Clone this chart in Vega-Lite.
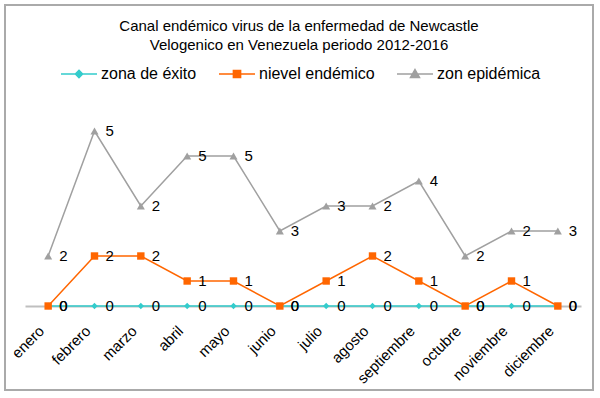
{
  "$schema": "https://vega.github.io/schema/vega-lite/v6.json",
  "width": 588,
  "height": 385,
  "autosize": "none",
  "padding": {"left": 5, "top": 5, "right": 7, "bottom": 8},
  "background": "white",
  "config": {
    "font": "Liberation Sans",
    "view": {"stroke": "#aaaaaa", "strokeWidth": 2}
  },
  "title": {
    "text": ["Canal endémico virus de la enfermedad de Newcastle", "Velogenico en Venezuela periodo 2012-2016"],
    "fontSize": 15,
    "fontWeight": "normal",
    "color": "#000000",
    "anchor": "middle",
    "frame": "group",
    "baseline": "top",
    "lineHeight": 19,
    "offset": -48
  },
  "data": {
    "values": [
      {"mes": "enero", "serie": "zona de éxito", "orden": 1, "valor": 0},
      {"mes": "febrero", "serie": "zona de éxito", "orden": 1, "valor": 0},
      {"mes": "marzo", "serie": "zona de éxito", "orden": 1, "valor": 0},
      {"mes": "abril", "serie": "zona de éxito", "orden": 1, "valor": 0},
      {"mes": "mayo", "serie": "zona de éxito", "orden": 1, "valor": 0},
      {"mes": "junio", "serie": "zona de éxito", "orden": 1, "valor": 0},
      {"mes": "julio", "serie": "zona de éxito", "orden": 1, "valor": 0},
      {"mes": "agosto", "serie": "zona de éxito", "orden": 1, "valor": 0},
      {"mes": "septiembre", "serie": "zona de éxito", "orden": 1, "valor": 0},
      {"mes": "octubre", "serie": "zona de éxito", "orden": 1, "valor": 0},
      {"mes": "noviembre", "serie": "zona de éxito", "orden": 1, "valor": 0},
      {"mes": "diciembre", "serie": "zona de éxito", "orden": 1, "valor": 0},
      {"mes": "enero", "serie": "nievel endémico", "orden": 2, "valor": 0},
      {"mes": "febrero", "serie": "nievel endémico", "orden": 2, "valor": 2},
      {"mes": "marzo", "serie": "nievel endémico", "orden": 2, "valor": 2},
      {"mes": "abril", "serie": "nievel endémico", "orden": 2, "valor": 1},
      {"mes": "mayo", "serie": "nievel endémico", "orden": 2, "valor": 1},
      {"mes": "junio", "serie": "nievel endémico", "orden": 2, "valor": 0},
      {"mes": "julio", "serie": "nievel endémico", "orden": 2, "valor": 1},
      {"mes": "agosto", "serie": "nievel endémico", "orden": 2, "valor": 2},
      {"mes": "septiembre", "serie": "nievel endémico", "orden": 2, "valor": 1},
      {"mes": "octubre", "serie": "nievel endémico", "orden": 2, "valor": 0},
      {"mes": "noviembre", "serie": "nievel endémico", "orden": 2, "valor": 1},
      {"mes": "diciembre", "serie": "nievel endémico", "orden": 2, "valor": 0},
      {"mes": "enero", "serie": "zon epidémica", "orden": 3, "valor": 2},
      {"mes": "febrero", "serie": "zon epidémica", "orden": 3, "valor": 5},
      {"mes": "marzo", "serie": "zon epidémica", "orden": 3, "valor": 2},
      {"mes": "abril", "serie": "zon epidémica", "orden": 3, "valor": 5},
      {"mes": "mayo", "serie": "zon epidémica", "orden": 3, "valor": 5},
      {"mes": "junio", "serie": "zon epidémica", "orden": 3, "valor": 3},
      {"mes": "julio", "serie": "zon epidémica", "orden": 3, "valor": 3},
      {"mes": "agosto", "serie": "zon epidémica", "orden": 3, "valor": 2},
      {"mes": "septiembre", "serie": "zon epidémica", "orden": 3, "valor": 4},
      {"mes": "octubre", "serie": "zon epidémica", "orden": 3, "valor": 2},
      {"mes": "noviembre", "serie": "zon epidémica", "orden": 3, "valor": 2},
      {"mes": "diciembre", "serie": "zon epidémica", "orden": 3, "valor": 3}
    ]
  },
  "transform": [
    {"stack": "valor", "groupby": ["mes"], "sort": [{"field": "orden", "order": "ascending"}], "as": ["y0", "y1"]}
  ],
  "encoding": {
    "x": {
      "field": "mes",
      "type": "nominal",
      "sort": null,
      "scale": {"type": "point", "range": [20, 576], "padding": 0.5},
      "axis": {
        "title": null,
        "offset": -84,
        "labelAngle": -45,
        "labelAlign": "right",
        "labelBaseline": "middle",
        "labelPadding": 22,
        "labelOffset": -7,
        "labelFontSize": 15,
        "labelColor": "#000000",
        "labelFont": "Liberation Sans",
        "ticks": false,
        "domainColor": "#bfbfbf",
        "domainWidth": 2
      }
    },
    "y": {
      "field": "y1",
      "type": "quantitative",
      "scale": {"domain": [-3.36, 12.04], "nice": false, "zero": false},
      "axis": null
    },
    "color": {
      "field": "serie",
      "type": "nominal",
      "scale": {
        "domain": ["zona de éxito", "nievel endémico", "zon epidémica"],
        "range": ["#33cccc", "#ff6600", "#a0a0a0"]
      },
      "legend": {
        "title": null,
        "orient": "none",
        "direction": "horizontal",
        "legendX": 55,
        "legendY": 50,
        "labelFontSize": 16,
        "labelColor": "#000000",
        "labelFont": "Liberation Sans",
        "labelOffset": 3,
        "columnPadding": 19,
        "symbolSize": 1296,
        "symbolStrokeWidth": 1.5,
        "labelLimit": 300,
        "encode": {
          "symbols": {
            "update": {
              "shape": {"signal": "datum.value === 'zona de éxito' ? 'M-1,0H1M0,-0.2L0.2,0L0,0.2L-0.2,0Z' : datum.value === 'nievel endémico' ? 'M-1,0H1M-0.2,-0.2H0.2V0.2H-0.2Z' : 'M-1,0H1M0,-0.25L0.25,0.2L-0.25,0.2Z'"},
              "fill": {"scale": "color", "field": "value"},
              "stroke": {"scale": "color", "field": "value"},
              "fillOpacity": {"value": 1},
              "strokeWidth": {"value": 1.5}
            }
          }
        }
      }
    }
  },
  "layer": [
    {
      "mark": {"type": "line", "strokeWidth": 1.5},
      "encoding": {"order": {"value": null}}
    },
    {
      "transform": [{"filter": "datum.serie === 'zona de éxito'"}],
      "mark": {"type": "point", "filled": true, "opacity": 1, "shape": "diamond", "size": 40}
    },
    {
      "transform": [{"filter": "datum.serie === 'nievel endémico'"}],
      "mark": {"type": "point", "filled": true, "opacity": 1, "shape": "square", "size": 55}
    },
    {
      "transform": [{"filter": "datum.serie === 'zon epidémica'"}],
      "mark": {"type": "point", "filled": true, "opacity": 1, "shape": "triangle-up", "size": 65}
    },
    {
      "mark": {"type": "text", "align": "left", "baseline": "middle", "dx": 11, "fontSize": 15, "color": "#000000"},
      "encoding": {
        "text": {"field": "valor", "type": "quantitative"},
        "color": {"value": "#000000"}
      }
    }
  ]
}
